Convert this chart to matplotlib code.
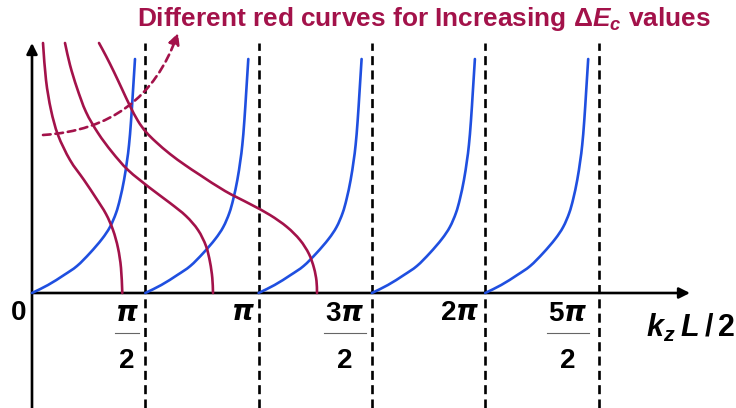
import numpy as np
import matplotlib
matplotlib.use("Agg")
import matplotlib.pyplot as plt
from matplotlib.path import Path
from matplotlib.patches import PathPatch

plt.rcParams['mathtext.fontset'] = 'custom'
plt.rcParams['mathtext.rm'] = 'Liberation Sans:bold'
plt.rcParams['mathtext.it'] = 'DejaVu Sans:bold:italic'
plt.rcParams['mathtext.sf'] = 'Liberation Sans:bold:italic'
plt.rcParams['mathtext.default'] = 'it'
plt.rcParams['font.family'] = ['Liberation Sans', 'DejaVu Sans']
plt.rcParams['lines.scale_dashes'] = False

# ---------------- data ----------------
# blue branch template (tan-like), relative to each branch start
blue_dx = [0, 0.222, 0.444, 0.624, 0.804, 0.970, 1.081, 1.165, 1.220, 1.276, 1.317, 1.345, 1.373, 1.400, 1.428]
blue_h = [0, 0.08, 0.18, 0.27, 0.40, 0.54, 0.66, 0.80, 0.94, 1.13, 1.32, 1.48, 1.72, 2.02, 2.34]
blue_starts = [0, 1, 2, 3, 4]  # in units of pi/2

red1_x = [0.1525, 0.1941, 0.2634, 0.3605, 0.5268, 0.7209, 0.8873, 1.0259, 1.1230, 1.1923, 1.2339, 1.2519]
red1_y = [2.50, 2.13, 1.83, 1.58, 1.33, 1.13, 0.95, 0.79, 0.63, 0.45, 0.25, 0.0]
red2_x = [0.4575, 0.5268, 0.6239, 0.7487, 0.9150, 1.1091, 1.3309, 1.6360, 1.9132, 2.1350, 2.3014, 2.4123,
          2.4678, 2.4997, 2.5094]
red2_y = [2.50, 2.28, 2.05, 1.81, 1.60, 1.41, 1.23, 1.05, 0.90, 0.77, 0.63, 0.47, 0.31, 0.15, 0.0]
red3_x = [0.9289, 1.0259, 1.1368, 1.2477, 1.3587, 1.4696, 1.5805, 1.7191, 1.9132, 2.1212, 2.3292, 2.6758,
          3.0224, 3.2996, 3.5353, 3.7156, 3.8403, 3.9096, 3.9443, 3.9512]
red3_y = [2.50, 2.37, 2.21, 2.04, 1.87, 1.72, 1.61, 1.51, 1.39, 1.28, 1.18, 1.02,
          0.89, 0.78, 0.66, 0.53, 0.39, 0.25, 0.12, 0.0]

dashed_ticks = [1, 2, 3, 4, 5]  # multiples of pi/2
tick_vals = [0, 1, 2, 3, 4, 5]
tick_num = ["0", r"$\pi$", r"$\pi$", r"$3\pi$", r"$2\pi$", r"$5\pi$"]
tick_den = [None, "2", None, "2", None, "2"]
title_text = r"Different red curves for Increasing $\Delta\mathsf{E}_\mathsf{c}$ values"
xlabel_text = r"$\mathsf{k}_\mathsf{z}\,\mathsf{L}\,/\,\mathrm{2}$"

RED = '#a3124a'
BLUE = '#1f4fe0'

# ---------------- figure ----------------
W, H = 736, 408
fig = plt.figure(figsize=(W / 100, H / 100), dpi=100)
ax = fig.add_axes([0, 0, 1, 1])
ax.axis('off')

k = (np.pi / 2) / 113.3   # data units per pixel (x)
ox, oy = 32, 293          # origin in pixels
def X(px):
    return (px - ox) * k
def Y(py):
    return (oy - py) / 100.0

ax.set_xlim(X(0), X(W))
ax.set_ylim(Y(H), Y(0))

half_pi = np.pi / 2


def smooth_curve(xs, ys, **kw):
    """Draw a smooth curve through the given points (Catmull-Rom as Bezier path)."""
    P = np.column_stack([xs, ys]).astype(float)
    n = len(P)
    ext = np.vstack([2 * P[0] - P[1], P, 2 * P[-1] - P[-2]])
    verts = [P[0]]
    codes = [Path.MOVETO]
    for i in range(n - 1):
        p0, p1, p2, p3 = ext[i], ext[i + 1], ext[i + 2], ext[i + 3]
        c1 = p1 + (p2 - p0) / 6.0
        c2 = p2 - (p3 - p1) / 6.0
        verts += [c1, c2, p2]
        codes += [Path.CURVE4] * 3
    patch = PathPatch(Path(verts, codes), fill=False, capstyle='round', joinstyle='round', **kw)
    ax.add_patch(patch)


# dashed verticals
for t in dashed_ticks:
    ax.plot([t * half_pi, t * half_pi], [Y(H), Y(43)], color='black', lw=1.9,
            dashes=(6.5, 3.8), zorder=1)

# axes with arrows
ax.annotate('', xy=(0, Y(43)), xytext=(0, Y(H + 5)),
            arrowprops=dict(arrowstyle='-|>', lw=1.9, color='black', mutation_scale=16,
                            shrinkA=0, shrinkB=0), zorder=3)
ax.annotate('', xy=(X(690), 0), xytext=(0, 0),
            arrowprops=dict(arrowstyle='-|>', lw=1.9, color='black', mutation_scale=16,
                            shrinkA=0, shrinkB=0), zorder=3)

# blue branches
bdx = np.array(blue_dx)
bh = np.array(blue_h)
for s in blue_starts:
    smooth_curve(s * half_pi + bdx, bh, edgecolor=BLUE, lw=1.9, zorder=4)

# red curves
for rx, ry in [(red1_x, red1_y), (red2_x, red2_y), (red3_x, red3_y)]:
    smooth_curve(rx, ry, edgecolor=RED, lw=1.9, zorder=4)

# dashed red curved arrow
ax.annotate('', xy=(X(178), Y(33)), xytext=(X(43), Y(135)),
            arrowprops=dict(arrowstyle='-|>', lw=1.9, color=RED, ls=(0, (5.5, 3.5)),
                            mutation_scale=16, shrinkA=0, shrinkB=0,
                            connectionstyle='arc3,rad=0.33'), zorder=5)

# tick labels
label_off_px = [-13, -18.5, -16, -27, -26, -31]
bar_half_px = [0, 12, 0, 21, 0, 21]
fs = 20
for v, num, den, off, bhw in zip(tick_vals, tick_num, tick_den, label_off_px, bar_half_px):
    cx = v * half_pi + off * k
    if den is None:
        ax.text(cx, Y(320), num, fontsize=fs, fontweight='bold', ha='center', va='baseline')
    else:
        ax.text(cx, Y(321), num, fontsize=fs, fontweight='bold', ha='center', va='baseline')
        ax.plot([cx - bhw * k, cx + bhw * k], [Y(333), Y(333)], color='#666666', lw=0.8)
        ax.text(cx, Y(368), den, fontsize=fs, fontweight='bold', ha='center', va='baseline')

# x label
ax.text(X(646), Y(337), xlabel_text, fontsize=22, ha='left', va='baseline')

# title
ax.text(X(137), Y(26), title_text, fontsize=18.9, fontweight='bold', color=RED,
        ha='left', va='baseline')

fig.savefig('out.png', dpi=100)
